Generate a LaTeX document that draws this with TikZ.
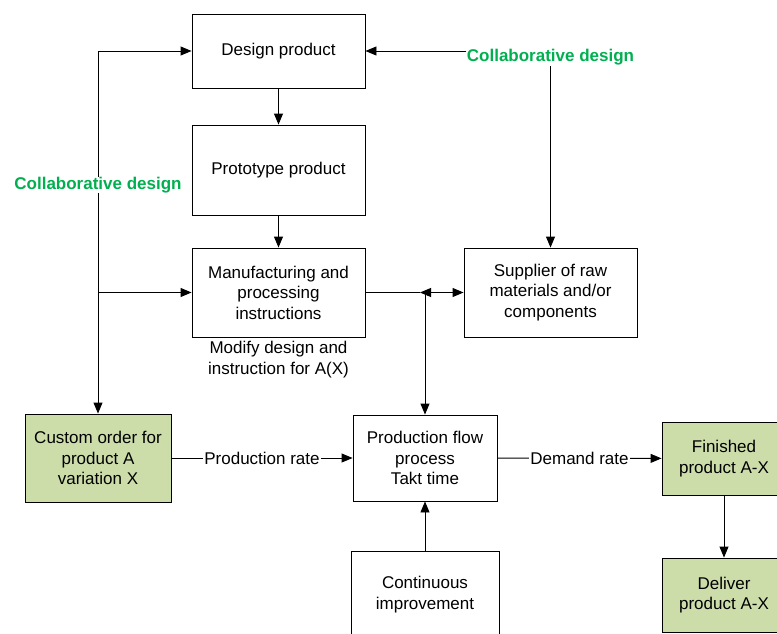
\documentclass[tikz,border=0pt]{standalone}
\usepackage{fontspec}
\setmainfont{Liberation Sans}
\usetikzlibrary{arrows.meta}
\definecolor{cdgreen}{RGB}{0,176,80}
\definecolor{olivefill}{RGB}{204,221,170}

\begin{document}
\begin{tikzpicture}[x=1pt,y=-1pt,line width=0.9pt,
  font=\fontsize{17}{20.5}\selectfont,
  >={Triangle[length=11pt,width=9pt]},
  box/.style={draw,align=center,inner sep=2pt},
  order/.style={box,fill=olivefill},
  collab/.style={text=cdgreen,font=\fontsize{17}{20.5}\selectfont\bfseries,inner sep=0pt},
  rate/.style={fill=white,inner sep=1pt}]
 \useasboundingbox (0,0) rectangle (777,634);

 \node[box,minimum width=173pt,minimum height=74pt] (design) at (278.5,51) {Design product};
 \node[box,minimum width=173pt,minimum height=90pt] (proto) at (278.5,170) {Prototype product};
 \node[box,minimum width=173pt,minimum height=89pt] (mfg) at (278.5,292.5) {Manufacturing and\\processing\\instructions};
 \node (modify) at (278.5,359.5) [align=center,inner sep=0pt] {Modify design and\\instruction for A(X)};
 \node[box,minimum width=173pt,minimum height=89pt] (supplier) at (550.5,292.5) {Supplier of raw\\materials and/or\\components};

 \node[order,minimum width=146pt,minimum height=88pt] (custom) at (98,458) {Custom order for\\product A\\variation X};
 \node[box,minimum width=144pt,minimum height=86pt] (flow) at (425,458) {Production flow\\process\\Takt time};
 \node[order,minimum width=124pt,minimum height=73pt] (finished) at (724,458.5) {Finished\\product A-X};
 \node[order,minimum width=124pt,minimum height=74pt] (deliver) at (724,595) {Deliver\\product A-X};
 \node[box,minimum width=148pt,minimum height=87pt] (improve) at (425,594.5) {Continuous\\improvement};

 \node[collab] (cdr) at (550.5,57.5) {Collaborative design};

 % collaborative design loop on the left
 \coordinate (tl) at (custom.north |- design.west);
 \draw [->] (tl) -- (design);
 \draw [->] (tl) -- (custom);
 \draw [->] (custom.north |- mfg.west) -- (mfg);
 \node[collab,fill=white] (cdl) at (98,185) {Collaborative design};

 % collaborative design with the supplier
 \draw [->] (cdr.west |- design.east) -- (design);
 \draw [->] (cdr) -- (supplier);

 \draw [->] (design) -- (proto);
 \draw [->] (proto) -- (mfg);

 \coordinate (j) at ([xshift=-5pt]flow.north |- mfg.east);
 \draw (mfg) -- (j);
 \draw [<->] (j) -- (supplier);
 \draw [->] (flow.north |- mfg.east) -- (flow);

 \draw [->] (custom) -- node[rate] {Production rate} (flow);
 \draw [->] (flow) -- node[rate] {Demand rate} (finished);
 \draw [->] (finished) -- (deliver);
 \draw [->] (improve) -- (flow);
\end{tikzpicture}
\end{document}
